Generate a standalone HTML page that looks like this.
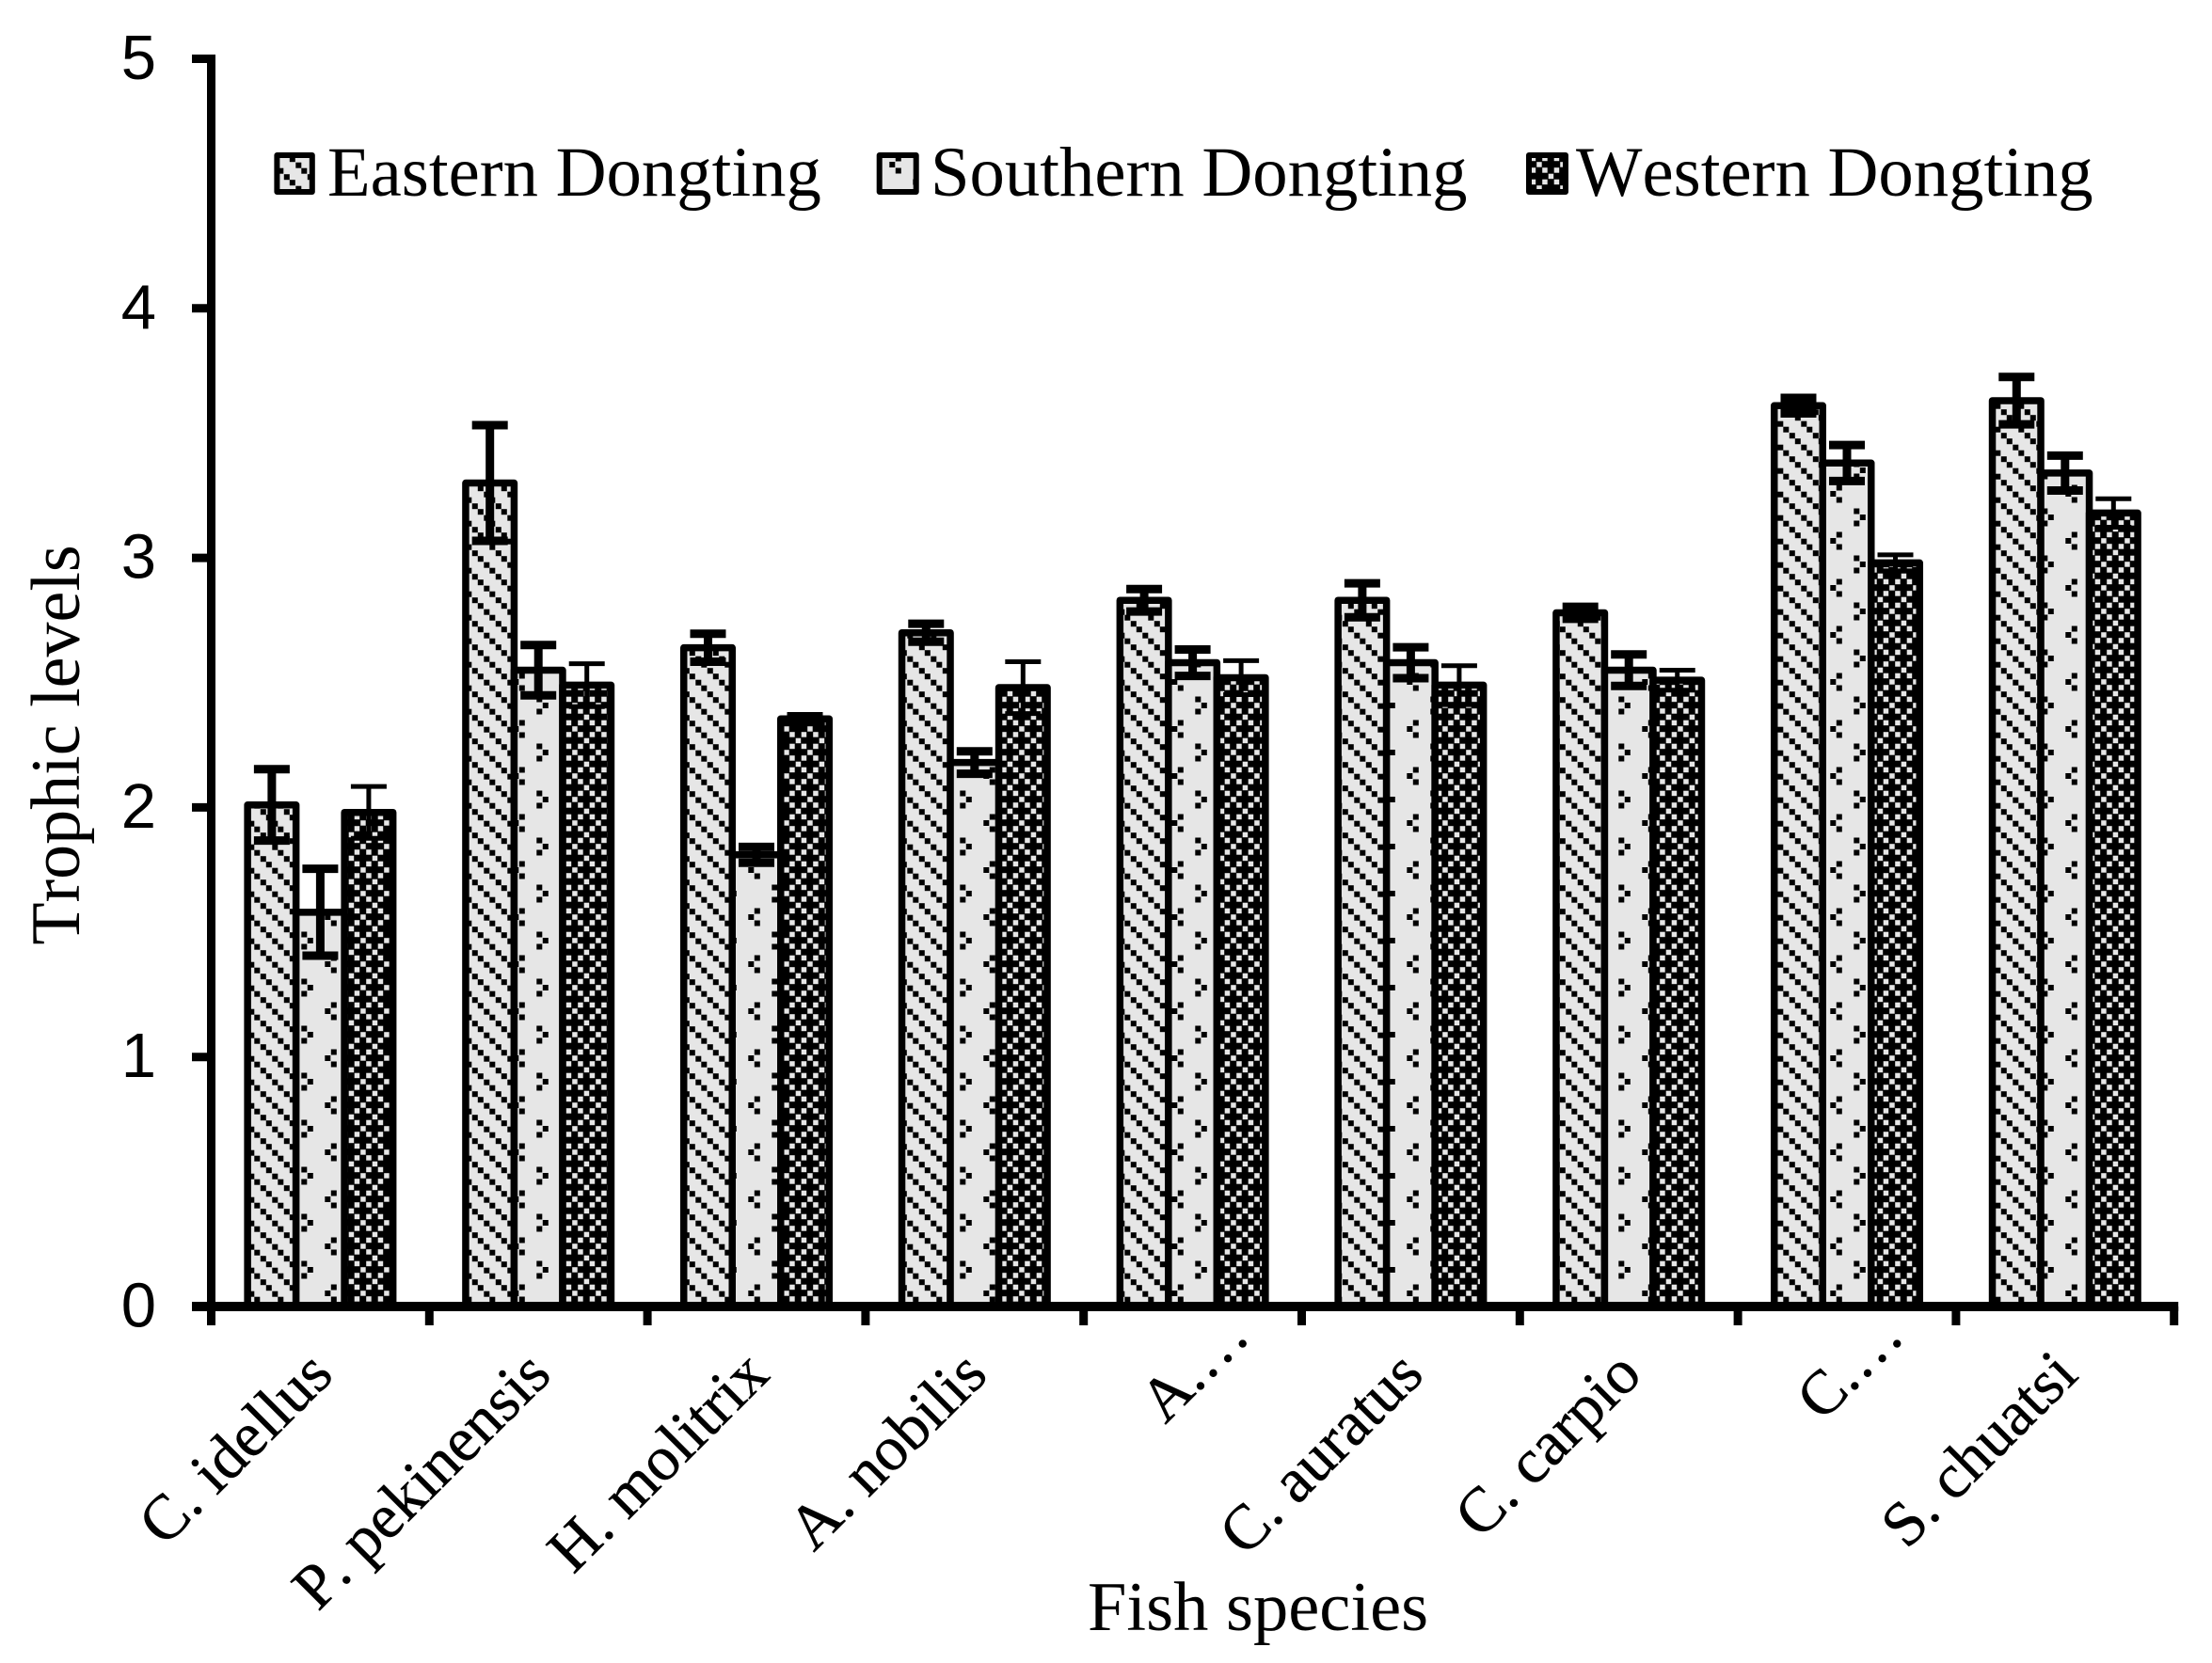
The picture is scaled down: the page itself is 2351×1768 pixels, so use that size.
<!DOCTYPE html>
<html lang="en">
<head>
<meta charset="utf-8">
<title>Trophic levels of fish species in Dongting Lake</title>
<style>
  html, body { margin: 0; padding: 0; background: #fff; }
  svg { display: block; }
  .sans { font-family: "Liberation Sans", Arial, sans-serif; }
  .serif { font-family: "Liberation Serif", "Times New Roman", serif; font-kerning: none; }
</style>
</head>
<body>
<svg id="chart" xmlns="http://www.w3.org/2000/svg" width="2351" height="1768" viewBox="0 0 2351 1768">
  <defs>
    <pattern id="pat-eastern" patternUnits="userSpaceOnUse" width="25" height="25" patternTransform="translate(1895.3 453.7)">
      <rect width="25" height="25" fill="#e6e6e6"/>
      <g fill="#000" shape-rendering="crispEdges">
        <rect x="0" y="0" width="6" height="6"/>
        <rect x="6.25" y="6.25" width="6" height="6"/>
        <rect x="12.5" y="12.5" width="6" height="6"/>
        <rect x="18.75" y="18.75" width="6" height="6"/>
      </g>
    </pattern>
    <pattern id="pat-southern" patternUnits="userSpaceOnUse" width="50" height="50" patternTransform="translate(40.3 10)">
      <rect width="50" height="50" fill="#e6e6e6"/>
      <g fill="#000" shape-rendering="crispEdges">
        <rect x="5" y="12" width="6" height="6"/>
        <rect x="11.5" y="5.3" width="6" height="6"/>
        <rect x="11.5" y="18.7" width="6" height="6"/>
        <rect x="36.7" y="37" width="6" height="6"/>
        <rect x="30" y="30.3" width="6" height="6"/>
        <rect x="30" y="43.7" width="6" height="6"/>
      </g>
    </pattern>
    <pattern id="pat-western" patternUnits="userSpaceOnUse" width="25" height="25" patternTransform="translate(1995.2 1196.7)">
      <rect width="25" height="25" fill="#000"/>
      <g fill="#e6e6e6" shape-rendering="crispEdges">
        <rect x="12.85" y="0.35" width="5.5" height="5.5"/>
        <rect x="6.6" y="6.6" width="5.5" height="5.5"/>
        <rect x="19.1" y="6.6" width="5.5" height="5.5"/>
        <rect x="0.35" y="12.85" width="5.5" height="5.5"/>
        <rect x="6.6" y="19.1" width="5.5" height="5.5"/>
        <rect x="19.1" y="19.1" width="5.5" height="5.5"/>
      </g>
    </pattern>
  </defs>

  <rect width="2351" height="1768" fill="#fff"/>

  <g id="bars"></g>
  <g id="errors"></g>
  <g id="axes"></g>
  <g id="y-labels" class="sans" font-size="67" fill="#000" text-anchor="end"></g>
  <g id="x-labels" class="serif" font-size="67" fill="#000" stroke="#000" stroke-width="0.5" text-anchor="end"></g>

  <text class="serif" font-size="74" fill="#000" text-anchor="middle" transform="translate(84 792) rotate(-90)">Trophic levels</text>
  <text class="serif" font-size="74.5" fill="#000" x="1156" y="1733">Fish species</text>

  <g class="serif" font-size="74.7" fill="#000">
    <g>
      <rect x="294.4" y="165" width="37.4" height="39" fill="url(#pat-eastern)" stroke="#000" stroke-width="6" stroke-linejoin="round"/>
      <text x="348" y="208">Eastern Dongting</text>
    </g>
    <g>
      <rect x="934.7" y="165" width="39" height="39" fill="url(#pat-southern)" stroke="#000" stroke-width="6" stroke-linejoin="round"/>
      <text x="989" y="208">Southern Dongting</text>
    </g>
    <g>
      <rect x="1625" y="165" width="39" height="39" fill="url(#pat-western)" stroke="#000" stroke-width="6" stroke-linejoin="round"/>
      <text x="1675" y="208">Western Dongting</text>
    </g>
  </g>
</svg>

<script>
const categories = ["C. idellus", "P. pekinensis", "H. molitrix", "A. nobilis", "A.…", "C. auratus", "C. carpio", "C.…", "S. chuatsi"];
const easternValues = [2.01, 3.30, 2.64, 2.70, 2.83, 2.83, 2.78, 3.61, 3.63];
const southernValues = [1.58, 2.55, 1.81, 2.18, 2.58, 2.58, 2.55, 3.38, 3.34];
const westernValues = [1.98, 2.49, 2.355, 2.48, 2.52, 2.49, 2.51, 2.98, 3.18];
const easternErrors = [0.143, 0.232, 0.056, 0.036, 0.045, 0.068, 0.024, 0.031, 0.095];
const southernErrors = [0.174, 0.101, 0.032, 0.045, 0.053, 0.062, 0.063, 0.072, 0.070];
const westernErrors = [0.104, 0.086, 0.018, 0.104, 0.068, 0.078, 0.040, 0.032, 0.057];
const yTickLabels = ["0", "1", "2", "3", "4", "5"];

const SVG_NS = "http://www.w3.org/2000/svg";
const xOrigin = 224.5, categoryStep = 231.8, yBase = 1389, yUnit = 265.3;
const barWidth = categoryStep / 4.5;

function xAt(index) { return xOrigin + categoryStep * index; }
function yAt(value) { return yBase - yUnit * value; }
function barLeft(categoryIndex, seriesIndex) {
  return xAt(categoryIndex + 0.5) - 1.5 * barWidth + seriesIndex * barWidth;
}
function make(tag, attrs, parent) {
  const el = document.createElementNS(SVG_NS, tag);
  for (const key in attrs) el.setAttribute(key, attrs[key]);
  parent.appendChild(el);
  return el;
}

const barsGroup = document.getElementById("bars");
const errorsGroup = document.getElementById("errors");
const axesGroup = document.getElementById("axes");
const yLabelsGroup = document.getElementById("y-labels");
const xLabelsGroup = document.getElementById("x-labels");

const seriesList = [
  { key: "eastern", values: easternValues, errors: easternErrors, fill: "url(#pat-eastern)", errorStroke: 9 },
  { key: "southern", values: southernValues, errors: southernErrors, fill: "url(#pat-southern)", errorStroke: 9 },
  { key: "western", values: westernValues, errors: westernErrors, fill: "url(#pat-western)", errorStroke: 5 }
];

seriesList.forEach(function (series, seriesIndex) {
  series.values.forEach(function (value, i) {
    const bar = make("rect", {
      x: barLeft(i, seriesIndex),
      y: yAt(value),
      width: barWidth,
      height: yBase - yAt(value),
      fill: series.fill,
      stroke: "#000",
      "stroke-width": 7.5,
      "stroke-linejoin": "round"
    }, barsGroup);
    
    
  });
});

seriesList.forEach(function (series, seriesIndex) {
  series.values.forEach(function (value, i) {
    const cx = barLeft(i, seriesIndex) + barWidth / 2;
    const top = yAt(value + series.errors[i]);
    const bottom = yAt(value - series.errors[i]);
    const path = "M" + (cx - 19) + " " + top + "H" + (cx + 19) +
      "M" + cx + " " + top + "V" + bottom +
      "M" + (cx - 19) + " " + bottom + "H" + (cx + 19);
    const err = make("path", { d: path, fill: "none", stroke: "#000", "stroke-width": series.errorStroke }, errorsGroup);
    
    
  });
});

const yAxisLine = make("line", { x1: xOrigin, x2: xOrigin, y1: yAt(5) - 4.5, y2: yBase + 5, stroke: "#000", "stroke-width": 9 }, axesGroup);



const xAxisLine = make("line", { x1: 204, x2: xAt(categories.length) + 4.5, y1: yBase, y2: yBase, stroke: "#000", "stroke-width": 10 }, axesGroup);



yTickLabels.forEach(function (label, i) {
  const y = yAt(Number(label));
  const tick = make("line", { x1: 204, x2: xOrigin, y1: y, y2: y, stroke: "#000", "stroke-width": 9 }, axesGroup);
  
  
  const text = make("text", { x: 166, y: y + 21.5 }, yLabelsGroup);
  text.textContent = label;
  
  
});

for (let i = 0; i <= categories.length; i++) {
  const tick = make("line", { x1: xAt(i), x2: xAt(i), y1: yBase, y2: 1409, stroke: "#000", "stroke-width": 9 }, axesGroup);
  
  
}

categories.forEach(function (name, i) {
  const truncated = name.endsWith("…");
  const ax = xAt(i + 0.5) + (truncated ? 63 : 16);
  const ay = truncated ? 1423 : 1464;
  const text = make("text", { transform: "translate(" + ax + " " + ay + ") rotate(-45)", "font-size": truncated ? 66 : 67 }, xLabelsGroup);
  text.textContent = name;
  
  
});
</script>
</body>
</html>
